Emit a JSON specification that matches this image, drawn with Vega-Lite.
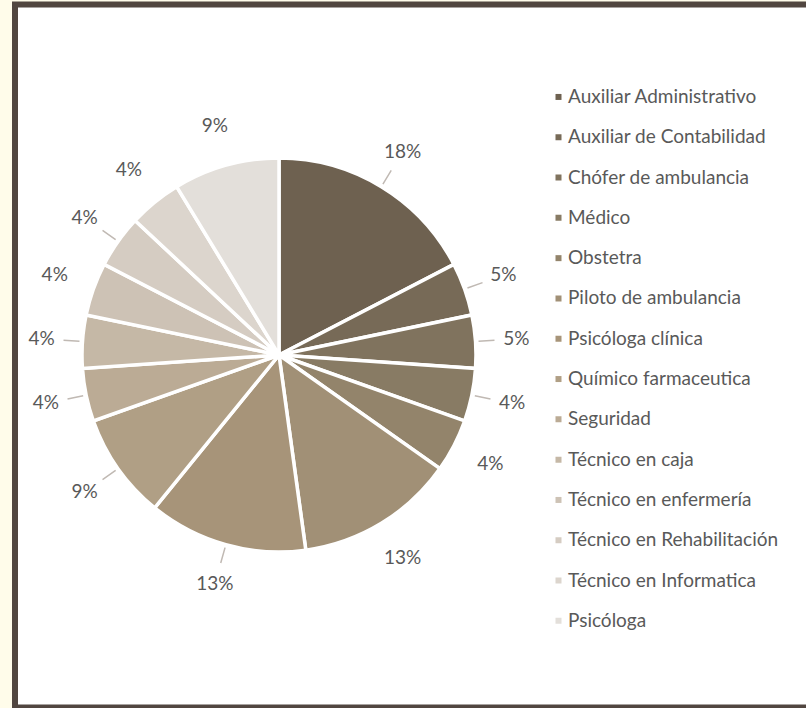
{
  "$schema": "https://vega.github.io/schema/vega-lite/v6.json",
  "width": 800,
  "height": 703,
  "padding": {"left": 15, "top": 4.5, "right": 0, "bottom": 0},
  "background": "#fffcea",
  "view": {"stroke": "#514640", "strokeWidth": 6, "fill": "#ffffff"},
  "config": {
    "font": "Lato"
  },
  "data": {
    "values": [
      {"i": 1, "job": "Auxiliar Administrativo", "n": 4, "label": "18%"},
      {"i": 2, "job": "Auxiliar de Contabilidad", "n": 1, "label": "5%"},
      {"i": 3, "job": "Chófer de ambulancia", "n": 1, "label": "5%"},
      {"i": 4, "job": "Médico", "n": 1, "label": "4%"},
      {"i": 5, "job": "Obstetra", "n": 1, "label": "4%"},
      {"i": 6, "job": "Piloto de ambulancia", "n": 3, "label": "13%"},
      {"i": 7, "job": "Psicóloga clínica", "n": 3, "label": "13%"},
      {"i": 8, "job": "Químico farmaceutica", "n": 2, "label": "9%"},
      {"i": 9, "job": "Seguridad", "n": 1, "label": "4%"},
      {"i": 10, "job": "Técnico en caja", "n": 1, "label": "4%"},
      {"i": 11, "job": "Técnico en enfermería", "n": 1, "label": "4%"},
      {"i": 12, "job": "Técnico en Rehabilitación", "n": 1, "label": "4%"},
      {"i": 13, "job": "Técnico en Informatica", "n": 1, "label": "4%"},
      {"i": 14, "job": "Psicóloga", "n": 2, "label": "9%"}
    ]
  },
  "transform": [
    {"stack": "n", "groupby": [], "sort": [{"field": "i", "order": "ascending"}], "as": ["s0", "s1"]},
    {"calculate": "(datum.s0 + datum.s1) / 2", "as": "mid"}
  ],
  "layer": [
    {
      "mark": {"type": "arc", "radius": 197, "x": 264, "y": 350.5, "stroke": "white", "strokeWidth": 3.5},
      "encoding": {
        "theta": {"field": "s0", "type": "quantitative", "stack": null, "scale": {"domain": [0, 23]}},
        "theta2": {"field": "s1"},
        "color": {
          "field": "job",
          "type": "nominal",
          "scale": {
            "domain": ["Auxiliar Administrativo", "Auxiliar de Contabilidad", "Chófer de ambulancia", "Médico", "Obstetra", "Piloto de ambulancia", "Psicóloga clínica", "Químico farmaceutica", "Seguridad", "Técnico en caja", "Técnico en enfermería", "Técnico en Rehabilitación", "Técnico en Informatica", "Psicóloga"],
            "range": ["#6e6150", "#776a57", "#80735e", "#887b64", "#93846b", "#a19076", "#a79479", "#b09f85", "#bbab95", "#c5b8a6", "#cdc2b5", "#d5ccc2", "#dcd5cd", "#e3dfda"]
          },
          "legend": {
            "title": null,
            "orient": "none",
            "legendX": 534,
            "legendY": 72.5,
            "padding": 0,
            "symbolType": "square",
            "symbolSize": 36,
            "symbolStrokeWidth": 0,
            "labelFont": "Lato",
            "labelFontSize": 19,
            "labelColor": "#595959",
            "labelOffset": 0,
            "labelLimit": 400,
            "clipHeight": 39.9,
            "rowPadding": 0.3
          }
        }
      }
    },
    {
      "transform": [{"filter": {"field": "job", "oneOf": ["Auxiliar Administrativo", "Auxiliar de Contabilidad", "Chófer de ambulancia", "Médico", "Psicóloga clínica", "Químico farmaceutica", "Seguridad", "Técnico en caja", "Técnico en Rehabilitación"]}}],
      "mark": {"type": "arc", "radius": 216, "radius2": 200, "x": 264, "y": 350.5, "stroke": "#c0b9b3", "strokeWidth": 1.5, "fill": null},
      "encoding": {
        "theta": {"field": "mid", "type": "quantitative", "stack": null},
        "theta2": {"field": "mid"}
      }
    },
    {
      "mark": {"type": "text", "radius": 238, "x": 264, "y": 350.5, "font": "Lato", "fontSize": 19, "color": "#595959"},
      "encoding": {
        "theta": {"field": "mid", "type": "quantitative", "stack": null},
        "text": {"field": "label"}
      }
    }
  ]
}
